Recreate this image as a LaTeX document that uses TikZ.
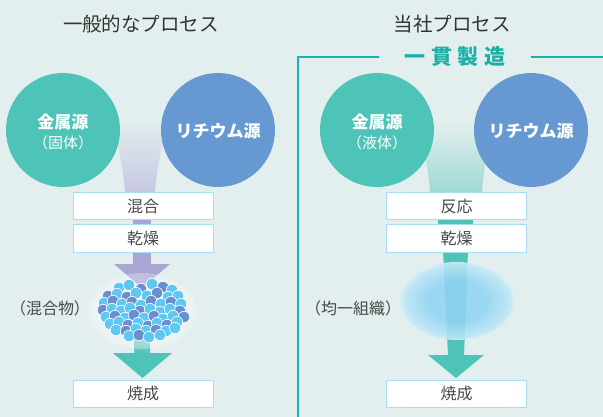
\documentclass[tikz,border=0pt]{standalone}
\usepackage{fontspec}
\setmainfont{Noto Sans CJK JP}
\definecolor{bgc}{HTML}{E3EFEE}
\definecolor{tealc}{HTML}{4EC3B8}
\definecolor{bluec}{HTML}{6699D1}
\definecolor{lavc}{HTML}{AAA5D2}
\definecolor{lavfun}{HTML}{C6C7E3}
\definecolor{tealfun}{HTML}{9ED9D3}
\definecolor{boxline}{HTML}{A8DEF2}
\definecolor{txtc}{HTML}{474747}
\definecolor{titc}{HTML}{333333}
\definecolor{linec}{HTML}{17B3AC}
\definecolor{headc}{HTML}{1DB0A7}
\definecolor{partL}{HTML}{5EC7F2}
\definecolor{partD}{HTML}{6A8FD0}
\definecolor{glowA}{HTML}{90D4F3}
\definecolor{glowB}{HTML}{BDE6F6}
% soft glow of the uniform structure (path edge sits near 35bp)
\pgfdeclareradialshading{uniglow}{\pgfpoint{0bp}{0bp}}{%
  color(0bp)=(glowA); color(13bp)=(glowA); color(23bp)=(glowB);
  color(29bp)=(white); color(34bp)=(bgc); color(50bp)=(bgc)}
% faint halo behind the particle cluster
\pgfdeclareradialshading{clusterglow}{\pgfpoint{0bp}{0bp}}{%
  color(0bp)=(white); color(22bp)=(white); color(34bp)=(bgc); color(50bp)=(bgc)}
\begin{document}
\begin{tikzpicture}[x=1pt,y=-1pt,
  title/.style={text=titc,font=\fontsize{19.5}{23}\selectfont,inner sep=0pt},
  source/.style={circle,minimum size=114pt,inner sep=0pt},
  sourcetext/.style={text=white,align=center,inner sep=0pt,
    font=\bfseries\fontsize{17}{21}\selectfont},
  subtext/.style={text=white,inner sep=0pt,font=\fontsize{15}{18}\selectfont},
  stepbox/.style={draw=boxline,line width=1pt,fill=white,minimum width=140pt,
    minimum height=27pt,inner sep=0pt,text=txtc,font=\fontsize{16}{18}\selectfont},
  sidelabel/.style={text=txtc,font=\fontsize{16}{18}\selectfont,inner sep=0pt},
  divider/.style={draw=linec,line width=1.8pt},
  partlight/.style={fill=partL,draw=white,line width=0.6pt},
  partdark/.style={fill=partD,draw=white,line width=0.6pt}]

% canvas
\fill[bgc] (0,0) rectangle (603,417);
\useasboundingbox (0,0) rectangle (603,417);

% divider between the two processes
\coordinate (dl) at (379,57);
\coordinate (dc) at (298,57);
\coordinate (db) at (298,417);
\coordinate (dr1) at (531,57);
\coordinate (dr2) at (603,57);
\draw[divider] (dl) -- (dc) -- (db);
\draw[divider] (dr1) -- (dr2);

% headings
\node[title] (t1) at (141,24) {一般的なプロセス};
\node[title] (t2) at (452,24) {当社プロセス};
\node[text=headc,font=\bfseries\fontsize{21}{24}\selectfont,inner sep=0pt] (ikkan) at (455,57)
  {一\kern5.5pt 貫\kern5.5pt 製\kern5.5pt 造};

% ---- conventional process: flow ----
\shade[top color=bgc,bottom color=lavfun]
  (108,118) .. controls (118,140) and (123,165) .. (125,193)
  -- (155,193) .. controls (157,165) and (162,140) .. (172,118) -- cycle;
\fill[lavc] (133,193) rectangle (151,265);
\fill[lavc] (114,264) -- (170,264) -- (142,288) -- cycle;

% teal arrow below the mixture
\shade[top color=tealc!35!bgc,bottom color=tealc] (134,326) rectangle (150,354);
\fill[tealc] (113,353) -- (172,353) -- (142.5,378) -- cycle;

% halo and particles of the mixture
\shade[shading=clusterglow,opacity=0.3] (142,311) ellipse [x radius=54,y radius=38];
\foreach \px/\py/\pc in {
  119/288/partlight,129/285/partlight,141/289/partdark,152/284/partlight,163/287/partdark,172/290/partlight,
  108/296/partdark,117/294/partlight,127/297/partdark,136/293/partlight,147/296/partlight,157/293/partdark,168/297/partlight,178/296/partlight,
  104/303/partlight,113/301/partdark,122/304/partlight,132/302/partdark,141/305/partlight,151/301/partdark,161/304/partlight,171/302/partdark,181/304/partlight,
  103/310/partdark,112/309/partlight,121/311/partlight,130/308/partlight,140/311/partdark,150/309/partlight,160/312/partlight,170/309/partlight,180/311/partdark,
  106/317/partlight,115/316/partdark,125/318/partlight,134/315/partdark,144/318/partlight,154/316/partdark,163/319/partlight,173/316/partlight,184/317/partdark,
  110/324/partlight,119/322/partlight,128/325/partdark,138/323/partlight,148/326/partdark,157/323/partlight,167/325/partdark,177/322/partlight,
  116/330/partlight,126/331/partdark,136/329/partlight,146/331/partlight,156/330/partdark,166/331/partlight,175/328/partlight,
  129/336/partlight,139/335/partdark,149/337/partlight,160/335/partlight}
  {\path[\pc] (\px,\py) circle [radius=5.7];}

% ---- own process: flow ----
\shade[top color=bgc,bottom color=tealfun]
  (414,122) .. controls (424,145) and (428,165) .. (430,193)
  -- (482,193) .. controls (484,165) and (488,145) .. (498,122) -- cycle;
\fill[tealc] (438,212) rectangle (473,232);
\fill[tealc] (443,250) -- (468,250) -- (464,356) -- (448,356) -- cycle;
\fill[tealc] (428,355) -- (484,355) -- (456,378) -- cycle;
\shade[shading=uniglow,opacity=0.88] (457,301) ellipse [x radius=57,y radius=39];

% raw material sources
\node[source,fill=tealc] (metal1) at (63,130) {};
\node[source,fill=bluec] (li1) at (218,130) {};
\node[source,fill=tealc] (metal2) at (377,130) {};
\node[source,fill=bluec] (li2) at (531,130) {};
\node[sourcetext] (metal1a) at (63,122) {金属源};
\node[subtext] (metal1b) at (63,143) {（固体）};
\node[sourcetext] (li1a) at (218,131) {リチウム源};
\node[sourcetext] (metal2a) at (377,122) {金属源};
\node[subtext] (metal2b) at (377,143) {（液体）};
\node[sourcetext] (li2a) at (531,131) {リチウム源};

% process steps
\node[stepbox] (mix)   at (143,206.5) {混合};
\node[stepbox] (dry1)  at (143,238.5) {乾燥};
\node[stepbox] (fire1) at (143,393.5) {焼成};
\node[stepbox] (react) at (456.5,206.5) {反応};
\node[stepbox] (dry2)  at (456.5,238.5) {乾燥};
\node[stepbox] (fire2) at (456.5,393.5) {焼成};

% intermediate products
\node[sidelabel] (mixture) at (50,308) {（混合物）};
\node[sidelabel] (uniform) at (353,308) {（均一組織）};
\end{tikzpicture}
\end{document}
